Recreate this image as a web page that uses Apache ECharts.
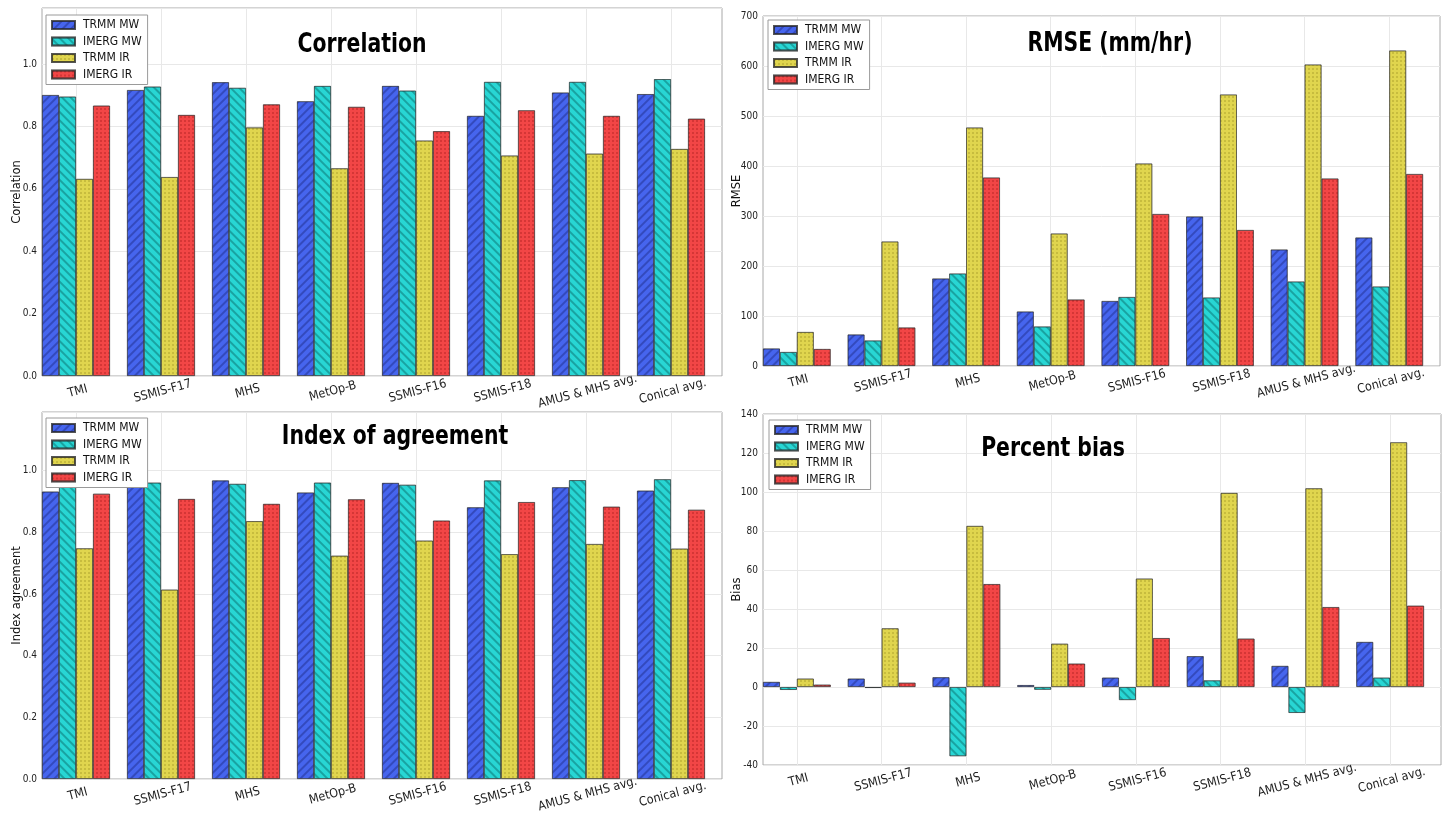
<!DOCTYPE html>
<html>
<head>
<meta charset="utf-8">
<title>Satellite precipitation skill scores</title>
<script src="https://cdn.jsdelivr.net/npm/echarts@6/dist/echarts.min.js"></script>
<style>
  html, body { margin: 0; padding: 0; background: #fff; }
  #chart { width: 1447px; height: 820px; }
</style>
</head>
<body>
<div id="chart"></div>
<script>
// Sensors / averages on the x axis
const categories = ['TMI', 'SSMIS-F17', 'MHS', 'MetOp-B', 'SSMIS-F16', 'SSMIS-F18', 'AMUS & MHS avg.', 'Conical avg.'];
const seriesNames = ['TRMM MW', 'IMERG MW', 'TRMM IR', 'IMERG IR'];

// Correlation
const corrTrmmMw  = [0.901, 0.917, 0.942, 0.881, 0.930, 0.834, 0.909, 0.904];
const corrImergMw = [0.896, 0.928, 0.924, 0.930, 0.915, 0.943, 0.943, 0.952];
const corrTrmmIr  = [0.632, 0.638, 0.797, 0.666, 0.755, 0.707, 0.713, 0.728];
const corrImergIr = [0.867, 0.837, 0.871, 0.863, 0.785, 0.852, 0.834, 0.825];

// RMSE (mm/hr)
const rmseTrmmMw  = [35, 63, 175, 109, 130, 299, 233, 257];
const rmseImergMw = [28, 51, 185, 79, 138, 137, 169, 159];
const rmseTrmmIr  = [68, 249, 477, 265, 405, 543, 603, 631];
const rmseImergIr = [34, 77, 377, 133, 304, 272, 375, 384];

// Index of agreement
const ioaTrmmMw  = [0.932, 0.950, 0.968, 0.929, 0.960, 0.881, 0.946, 0.935];
const ioaImergMw = [0.950, 0.961, 0.957, 0.961, 0.954, 0.968, 0.969, 0.972];
const ioaTrmmIr  = [0.748, 0.614, 0.836, 0.724, 0.773, 0.729, 0.762, 0.747];
const ioaImergIr = [0.925, 0.908, 0.892, 0.907, 0.838, 0.898, 0.883, 0.873];

// Percent bias
const biasTrmmMw  = [2.6, 4.3, 5.0, 1.0, 4.8, 15.8, 10.8, 23.1];
const biasImergMw = [-1.5, -0.5, -35.5, -1.4, -6.7, 3.4, -13.3, 4.8];
const biasTrmmIr  = [4.3, 30.1, 82.6, 22.2, 55.6, 99.5, 101.9, 125.5];
const biasImergIr = [1.2, 2.2, 52.8, 12.0, 25.1, 24.8, 41.0, 41.7];

const FONT = '"DejaVu Sans Condensed", "DejaVu Sans", sans-serif';
const TITLE_FONT = '"Liberation Sans Narrow", "DejaVu Sans Condensed", "Liberation Sans", sans-serif';

// Fill colours and hatch patterns, one per product
const styles = [
  { color: '#4665ee', decal: { symbol: 'rect', symbolSize: 1, dashArrayX: [1, 0], dashArrayY: [1.2, 3.2], rotation: -Math.PI / 4, color: 'rgba(20,30,110,0.38)' } },
  { color: '#28d6d4', decal: { symbol: 'rect', symbolSize: 1, dashArrayX: [1, 0], dashArrayY: [1.2, 3.2], rotation: Math.PI / 4, color: 'rgba(0,80,80,0.38)' } },
  { color: '#e0d54e', decal: { symbol: 'circle', symbolSize: 0.8, dashArrayX: [[1.6, 1.8]], dashArrayY: [1.6, 1.8], rotation: 0, color: 'rgba(110,100,10,0.5)' } },
  { color: '#f24646', decal: { symbol: 'circle', symbolSize: 0.8, dashArrayX: [[1.6, 1.8]], dashArrayY: [1.6, 1.8], rotation: 0, color: 'rgba(110,0,0,0.5)' } }
];

// Panel layout: plot frame (left, top, width, height), y scale, titles, legend box
const panels = [
  { frame: [42, 8, 680, 368], min: 0, max: 1.18, interval: 0.2, digits: 1, yName: 'Correlation', nameX: 16,
    title: 'Correlation', titlePos: [362, 45], legendPos: [46, 15],
    data: [corrTrmmMw, corrImergMw, corrTrmmIr, corrImergIr] },
  { frame: [763, 16, 677, 350], min: 0, max: 700, interval: 100, digits: 0, yName: 'RMSE', nameX: 736,
    title: 'RMSE (mm/hr)', titlePos: [1110, 44], legendPos: [768, 20],
    data: [rmseTrmmMw, rmseImergMw, rmseTrmmIr, rmseImergIr] },
  { frame: [42, 412, 680, 367], min: 0, max: 1.19, interval: 0.2, digits: 1, yName: 'Index agreement', nameX: 16,
    title: 'Index of agreement', titlePos: [395, 437], legendPos: [46, 418],
    data: [ioaTrmmMw, ioaImergMw, ioaTrmmIr, ioaImergIr] },
  { frame: [763, 414, 678, 351], min: -40, max: 140, interval: 20, digits: 0, yName: 'Bias', nameX: 736,
    title: 'Percent bias', titlePos: [1053, 449], legendPos: [769, 420],
    data: [biasTrmmMw, biasImergMw, biasTrmmIr, biasImergIr] }
];

const grids = [], xAxes = [], yAxes = [], series = [], legends = [], graphics = [];

panels.forEach((p, pi) => {
  const [L, T, W, H] = p.frame;
  const band = W / categories.length;
  const frameGrid = pi * 2, barGrid = pi * 2 + 1;

  // frame grid: border, y ticks, horizontal grid lines
  grids.push({ left: L, top: T, width: W, height: H, show: true, borderColor: '#a8a8a8', borderWidth: 1,
               backgroundColor: 'transparent', containLabel: false, outerBoundsMode: 'none' });
  // bar grid: same height, shifted so each group's bars start at the band's left edge
  grids.push({ left: L - band * 0.1, top: T, width: W, height: H, show: false,
               containLabel: false, outerBoundsMode: 'none' });

  xAxes.push({ gridIndex: frameGrid, type: 'value', min: 0, max: 1, show: false });
  xAxes.push({
    gridIndex: barGrid, type: 'category', data: categories,
    axisLine: { show: false }, axisTick: { show: false },
    axisLabel: { rotate: 15, align: 'center', verticalAlign: 'top', margin: 9, fontSize: 12.5,
                 color: '#222', fontFamily: FONT, interval: 0 },
    splitLine: { show: true, alignWithLabel: true, lineStyle: { color: '#e8e8e8', width: 1 } }
  });

  yAxes.push({
    gridIndex: frameGrid, type: 'value', min: p.min, max: p.max, interval: p.interval,
    axisLine: { show: false }, axisTick: { show: false },
    axisLabel: {
      fontSize: 10, color: '#222', fontFamily: FONT, margin: 5, showMaxLabel: p.digits === 0,
      formatter: v => {
        const k = v / p.interval;
        return Math.abs(k - Math.round(k)) < 1e-6 ? v.toFixed(p.digits) : '';
      }
    },
    splitLine: { show: true, lineStyle: { color: '#e8e8e8', width: 1 } },
    name: p.yName, nameLocation: 'middle', nameGap: L - p.nameX - 7, nameMoveOverlap: false,
    nameTextStyle: { fontSize: 11.5, color: '#111', fontFamily: '"DejaVu Sans", sans-serif' }
  });
  yAxes.push({ gridIndex: barGrid, type: 'value', min: p.min, max: p.max, show: false,
               splitLine: { show: false } });

  p.data.forEach((vals, si) => {
    series.push({
      type: 'bar', name: seriesNames[si],
      xAxisIndex: barGrid, yAxisIndex: barGrid,
      data: vals,
      barGap: '0%', barCategoryGap: '20%',
      itemStyle: { color: styles[si].color, decal: styles[si].decal,
                   borderColor: 'rgba(40,40,40,0.55)', borderWidth: 0.8 },
      emphasis: { disabled: true },
      animation: false
    });
  });

  legends.push({
    orient: 'vertical', left: p.legendPos[0], top: p.legendPos[1],
    data: seriesNames, selectedMode: false,
    icon: 'rect', itemWidth: 23, itemHeight: 8, itemGap: 2.5,
    padding: [3, 6, 3, 5],
    backgroundColor: '#fff', borderColor: '#9a9a9a', borderWidth: 1, borderRadius: 0,
    textStyle: { fontSize: 12, lineHeight: 14, color: '#111', fontFamily: FONT, padding: [0, 0, 0, 3] },
    z: 10
  });

  // panel heading, drawn narrow like a condensed display face
  graphics.push({
    type: 'text', x: p.titlePos[0], y: p.titlePos[1], z: 20, scaleX: 0.84,
    style: { text: p.title, font: 'bold 27px ' + TITLE_FONT, fill: '#000',
             align: 'center', verticalAlign: 'middle', textAlign: 'center', textVerticalAlign: 'middle' }
  });
});

const chart = echarts.init(document.getElementById('chart'), null, { renderer: 'canvas' });
chart.setOption({
  backgroundColor: '#fff',
  animation: false,
  grid: grids,
  xAxis: xAxes,
  yAxis: yAxes,
  legend: legends,
  series: series,
  graphic: graphics
});
</script>
</body>
</html>
